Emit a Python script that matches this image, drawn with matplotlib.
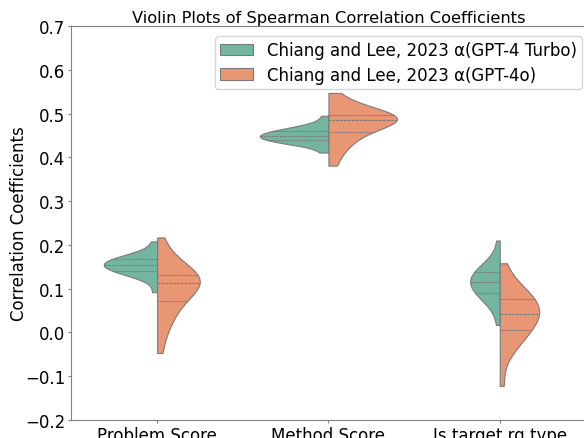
import matplotlib
matplotlib.use("Agg")
import matplotlib.pyplot as plt
import seaborn as sns
import pandas as pd

categories = ["Problem Score", "Method Score", "Is target rg type"]
models = ["Chiang and Lee, 2023 α(GPT-4 Turbo)", "Chiang and Lee, 2023 α(GPT-4o)"]

# per-run Spearman coefficients
turbo_problem = [0.092, 0.1207, 0.1278, 0.1336, 0.1368, 0.1401, 0.1433, 0.1458,
                 0.1481, 0.1505, 0.1529, 0.1553, 0.1577, 0.1602, 0.1626, 0.1651,
                 0.1674, 0.1702, 0.1741, 0.1781, 0.1857, 0.208]
turbo_method = [0.411, 0.4277, 0.4317, 0.4341, 0.4361, 0.4382, 0.4403, 0.4423,
                0.4444, 0.4465, 0.4484, 0.4504, 0.4523, 0.4543, 0.4562, 0.4582,
                0.4601, 0.4621, 0.4661, 0.4718, 0.4759, 0.495]
turbo_target = [0.017, 0.0528, 0.0673, 0.0760, 0.0835, 0.0889, 0.0943, 0.0994,
                0.1038, 0.1083, 0.1125, 0.1170, 0.1213, 0.1255, 0.1299, 0.1344,
                0.1396, 0.1448, 0.1500, 0.1587, 0.172, 0.210]
gpt4o_problem = [-0.047, 0.0003, 0.0210, 0.0391, 0.0539, 0.0696, 0.0782, 0.0872,
                 0.0954, 0.1028, 0.1098, 0.1152, 0.1186, 0.1221, 0.1255, 0.1290,
                 0.1327, 0.1395, 0.1509, 0.1623, 0.1794, 0.217]
gpt4o_method = [0.381, 0.4093, 0.4253, 0.4374, 0.4471, 0.4572, 0.4640, 0.4699,
                0.4754, 0.4799, 0.4835, 0.4865, 0.4885, 0.4906, 0.4927, 0.4947,
                0.4972, 0.5020, 0.5080, 0.5150, 0.5240, 0.547]
gpt4o_target = [-0.122, -0.0516, -0.0317, -0.0186, -0.0064, 0.0025, 0.0113, 0.0195,
                0.0262, 0.0330, 0.0397, 0.0458, 0.0518, 0.0578, 0.0639, 0.0700,
                0.0772, 0.0842, 0.0929, 0.1024, 0.1184, 0.158]

series = {
    models[0]: [turbo_problem, turbo_method, turbo_target],
    models[1]: [gpt4o_problem, gpt4o_method, gpt4o_target],
}
rows = []
for model, lists in series.items():
    for cat, vals in zip(categories, lists):
        for v in vals:
            rows.append({"metric": cat, "value": v, "model": model})
df = pd.DataFrame(rows)

fig = plt.figure(figsize=(5.84, 4.39), dpi=100)
ax = fig.add_axes([0.1224, 0.041, 0.880, 0.8975])
sns.violinplot(data=df, x="metric", y="value", hue="model", split=True,
               inner="quart", cut=0, palette="Set2", order=categories,
               hue_order=models, linewidth=0.8, linecolor="#7a7a7a", ax=ax)
ax.set_ylim(-0.2, 0.7)
ax.set_xlim(-0.5, 2.5)
ax.set_xlabel("")
ax.set_ylabel("Correlation Coefficients", fontsize=12, labelpad=-2)
ax.set_title("Violin Plots of Spearman Correlation Coefficients", fontsize=11.7, pad=3)
ax.tick_params(labelsize=12, color="#808080", length=2.5, pad=2)
for s in ax.spines.values():
    s.set_color("#808080")
ax.legend(loc="upper right", fontsize=12, bbox_to_anchor=(1.009, 0.995),
          borderpad=0.3, labelspacing=0.4)
fig.savefig("out.png", dpi=100)
